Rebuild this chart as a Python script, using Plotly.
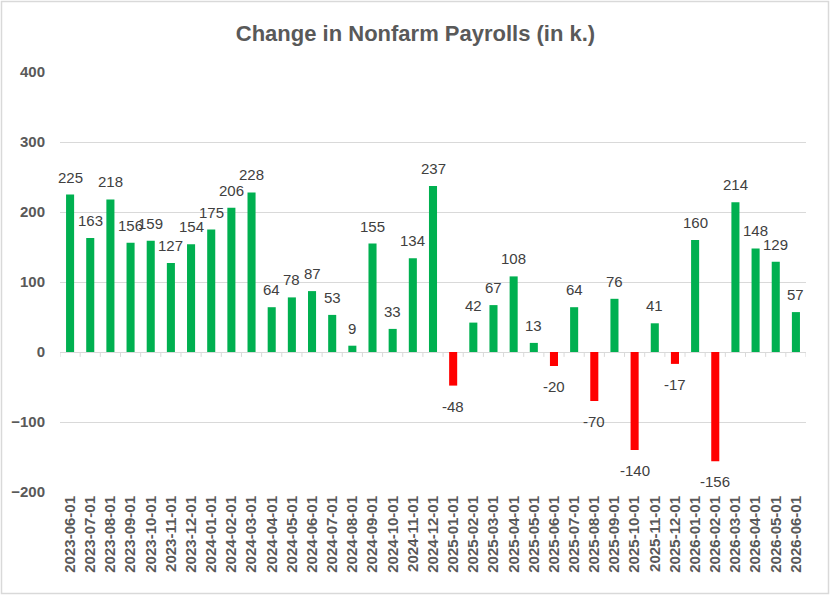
import plotly.graph_objects as go

dates = ["2023-06-01","2023-07-01","2023-08-01","2023-09-01","2023-10-01","2023-11-01","2023-12-01",
         "2024-01-01","2024-02-01","2024-03-01","2024-04-01","2024-05-01","2024-06-01","2024-07-01",
         "2024-08-01","2024-09-01","2024-10-01","2024-11-01","2024-12-01",
         "2025-01-01","2025-02-01","2025-03-01","2025-04-01","2025-05-01","2025-06-01","2025-07-01",
         "2025-08-01","2025-09-01","2025-10-01","2025-11-01","2025-12-01",
         "2026-01-01","2026-02-01","2026-03-01","2026-04-01","2026-05-01","2026-06-01"]
values = [225, 163, 218, 156, 159, 127, 154,
          175, 206, 228, 64, 78, 87, 53,
          9, 155, 33, 134, 237,
          -48, 42, 67, 108, 13, -20, 64,
          -70, 76, -140, 41, -17,
          160, -156, 214, 148, 129, 57]
y_ticks = [-200, -100, 0, 100, 200, 300, 400]

GREEN = "#00B050"
RED = "#FF0000"
GRID = "#D9D9D9"

idx = list(range(len(dates)))
colors = [GREEN if v >= 0 else RED for v in values]

fig = go.Figure()
fig.add_trace(go.Bar(
    x=idx, y=values, marker_color=colors, marker_line_width=0,
    cliponaxis=False, width=0.4, hoverinfo="skip",
))

# small tick marks along the zero line between categories
tx, ty = [], []
for i in range(len(dates) + 1):
    b = i - 0.5
    tx += [b, b, None]
    ty += [0, -7, None]
fig.add_trace(go.Scatter(x=tx, y=ty, mode="lines", line=dict(color=GRID, width=1),
                         hoverinfo="skip", showlegend=False))

# data labels (outside end)
for i, v in zip(idx, values):
    fig.add_annotation(
        x=i, y=v, text=str(v), showarrow=False,
        xanchor="center", yanchor="bottom" if v >= 0 else "top",
        yshift=7 if v >= 0 else -10,
        font=dict(family="Liberation Sans", size=15, color="#404040"),
    )

fig.update_layout(
    width=831, height=596,
    paper_bgcolor="white", plot_bgcolor="white",
    margin=dict(l=60, r=25, t=72, b=104),
    showlegend=False,
    title=dict(text="Change in Nonfarm Payrolls (in k.)", x=0.5, xanchor="center",
               y=1 - 33 / 596, yanchor="middle",
               font=dict(family="Liberation Sans", size=22, color="#595959", weight="bold")),
    xaxis=dict(range=[-0.5, len(dates) - 0.5], tickmode="array", tickvals=idx, ticktext=dates,
               tickangle=-90, showgrid=False, zeroline=False, showline=False, ticks="",
               tickfont=dict(family="Liberation Sans", size=15, color="#595959", weight="bold")),
    yaxis=dict(range=[-200, 400], tickmode="array", tickvals=y_ticks,
               showgrid=True, gridcolor=GRID, gridwidth=1,
               zeroline=True, zerolinecolor=GRID, zerolinewidth=1,
               showline=False, ticks="", ticklabelstandoff=14,
               tickfont=dict(family="Liberation Sans", size=15, color="#595959", weight="bold")),
    bargap=0.6,
)

# chart border
fig.add_shape(type="rect", xref="paper", yref="paper",
              x0=-(60 - 1.5) / 746, x1=1 + (25 - 2.5) / 746,
              y0=-(104 - 2.5) / 420, y1=1 + (72 - 1.5) / 420,
              line=dict(color=GRID, width=1.5), layer="below")

fig.write_html("out.html")
